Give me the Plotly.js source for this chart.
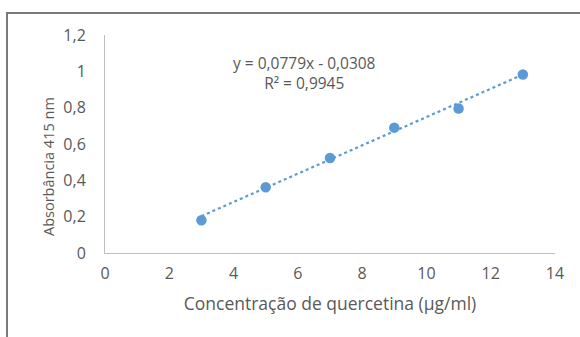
<!DOCTYPE html>
<html>
<head>
<meta charset="utf-8">
<script src="https://cdn.plot.ly/plotly-3.0.1.min.js"></script>
<style>
  html, body { margin: 0; padding: 0; background: #ffffff; }
  #wrap { position: relative; width: 580px; height: 337px; overflow: hidden; }
  #frame { position: absolute; left: 6px; top: 12px; width: 600px; height: 400px;
           border-left: 2px solid #7a7a7a; border-top: 2px solid #7a7a7a; }
  #chart { position: absolute; left: 0; top: 0; width: 580px; height: 337px; }
</style>
</head>
<body>
<div id="wrap">
  <div id="frame"></div>
  <div id="chart"></div>
</div>
<script>
// Data
const concentration = [3, 5, 7, 9, 11, 13];
const absorbance = [0.180, 0.362, 0.523, 0.690, 0.795, 0.983];
// Trendline endpoints (linear fit shown on the chart)
const trendX = [3, 13];
const trendY = [0.203, 0.982];
const equationText = 'y = 0,0779x - 0,0308<br>R² = 0,9945';
const xTickVals = [0, 2, 4, 6, 8, 10, 12, 14];
const xTickText = ['0', '2', '4', '6', '8', '10', '12', '14'];
const yTickVals = [0, 0.2, 0.4, 0.6, 0.8, 1, 1.2];
const yTickText = ['0', '0,2', '0,4', '0,6', '0,8', '1', '1,2'];
const xTitle = 'Concentração de quercetina (µg/ml)';
const yTitle = 'Absorbância 415 nm';

const blue = '#5b9bd5';
const textGray = '#595959';
const fontFam = 'Open Sans, sans-serif';

const traces = [
  {
    x: trendX, y: trendY, type: 'scatter', mode: 'lines',
    line: { color: blue, width: 2.2, dash: 'dot' },
    hoverinfo: 'skip', showlegend: false
  },
  {
    x: concentration, y: absorbance, type: 'scatter', mode: 'markers',
    marker: { color: blue, size: 10.5 },
    showlegend: false
  }
];

const layout = {
  width: 580, height: 337,
  margin: { l: 105, r: 25, t: 35, b: 84 },
  paper_bgcolor: 'rgba(0,0,0,0)',
  plot_bgcolor: 'rgba(0,0,0,0)',
  font: { family: fontFam, color: textGray, size: 16 },
  showlegend: false,
  xaxis: {
    range: [0, 14], tickvals: xTickVals, ticktext: xTickText,
    showgrid: false, zeroline: false,
    showline: true, linecolor: '#bfbfbf', linewidth: 1,
    ticks: 'outside', ticklen: 6, tickcolor: 'rgba(0,0,0,0)',
    tickfont: { family: fontFam, size: 16, color: textGray },
    title: { text: xTitle, font: { family: fontFam, size: 17.5, color: textGray }, standoff: 14 }
  },
  yaxis: {
    range: [0, 1.2], tickvals: yTickVals, ticktext: yTickText,
    showgrid: false, zeroline: false,
    showline: true, linecolor: '#bfbfbf', linewidth: 1,
    ticks: 'outside', ticklen: 15, tickcolor: 'rgba(0,0,0,0)',
    tickfont: { family: fontFam, size: 16, color: textGray }
  },
  annotations: [
    {
      text: equationText, xref: 'paper', yref: 'paper',
      x: (304 - 105) / 450, y: (253 - 73) / 218,
      xanchor: 'center', yanchor: 'middle', showarrow: false,
      align: 'center',
      font: { family: fontFam, size: 15.5, color: textGray }
    },
    {
      text: yTitle, xref: 'paper', yref: 'paper',
      x: (48 - 105) / 450, y: (253 - 166) / 218,
      xanchor: 'center', yanchor: 'middle', showarrow: false,
      textangle: -90,
      font: { family: fontFam, size: 14.5, color: textGray }
    }
  ]
};

Plotly.newPlot('chart', traces, layout, { displayModeBar: false, staticPlot: true });
</script>
</body>
</html>
